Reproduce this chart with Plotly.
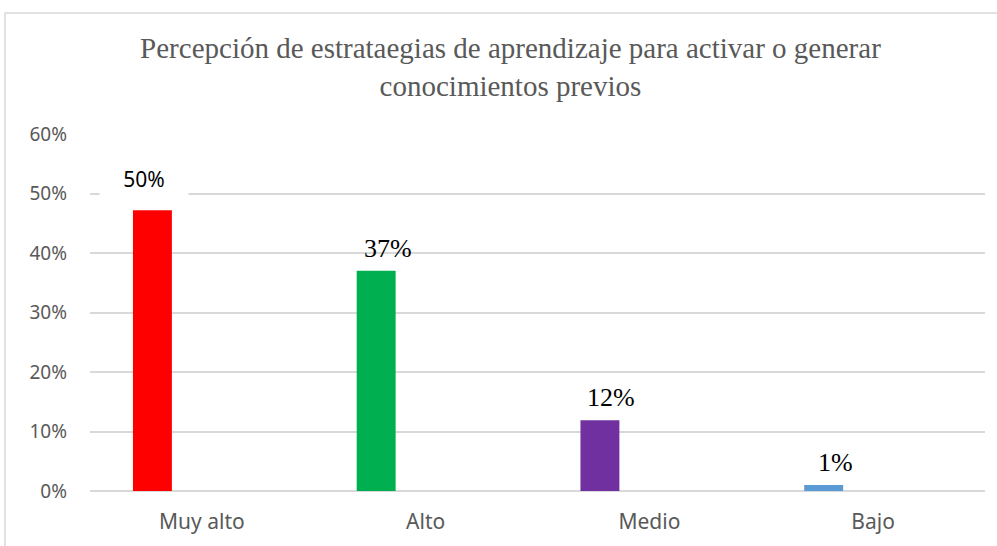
import plotly.graph_objects as go

categorias = ["Muy alto", "Alto", "Medio", "Bajo"]
valores = [0.472, 0.370, 0.119, 0.010]
etiquetas = ["50%", "37%", "12%", "1%"]
colores = ["#FF0000", "#00B050", "#7030A0", "#5B9BD5"]
ticks_y = [0, 0.1, 0.2, 0.3, 0.4, 0.5, 0.6]
ticks_y_texto = ["0%", "10%", "20%", "30%", "40%", "50%", "60%"]

fig = go.Figure()
fig.add_trace(go.Bar(
    x=categorias,
    y=valores,
    marker=dict(color=colores, line=dict(width=0)),
    width=0.174,
    offset=-0.308,
    hoverinfo="skip",
))

# data labels: first one is sans-serif with a white box, the rest Times
for i, (c, v, t) in enumerate(zip(categorias, valores, etiquetas)):
    if i == 0:
        fig.add_annotation(
            x=c, y=v, text=t, showarrow=False,
            xshift=-58, yshift=12, yanchor="bottom",
            font=dict(family="Noto Sans", size=21, color="#000000"),
            bgcolor="#FFFFFF", borderpad=4, width=80,
        )
    else:
        fig.add_annotation(
            x=c, y=v, text=t, showarrow=False,
            xshift=-38, yshift=6, yanchor="bottom",
            font=dict(family="Liberation Serif", size=26, color="#000000"),
        )

# outer chart frame
fig.add_shape(type="rect", xref="paper", yref="paper",
              x0=-0.095, x1=1.05, y0=-0.3, y1=1.339,
              line=dict(color="#D9D9D9", width=1.5), layer="below")

fig.update_layout(
    width=997, height=546,
    margin=dict(l=90, r=12, t=134, b=55),
    paper_bgcolor="white", plot_bgcolor="white",
    showlegend=False,
    title=dict(
        text="Percepción de estrataegias de aprendizaje para activar o generar<br>conocimientos previos",
        font=dict(family="Liberation Serif", size=29, color="#595959"),
        x=0.512, xanchor="center", y=0.893, yanchor="top",
    ),
    xaxis=dict(
        showgrid=False, showline=False, zeroline=False,
        tickfont=dict(family="Noto Sans", size=21, color="#595959"),
        ticks="outside", ticklen=0, ticklabelstandoff=12,
    ),
    yaxis=dict(
        range=[0, 0.6], tickvals=ticks_y, ticktext=ticks_y_texto,
        showgrid=True, gridcolor="#D9D9D9", gridwidth=1.5,
        zeroline=True, zerolinecolor="#D9D9D9", zerolinewidth=1.5,
        showline=False,
        tickfont=dict(family="Noto Sans", size=19, color="#595959"),
        ticklabelstandoff=22,
    ),
)

fig.write_html("out.html", config={"displayModeBar": False},
               post_script="document.body.style.margin='0';")
